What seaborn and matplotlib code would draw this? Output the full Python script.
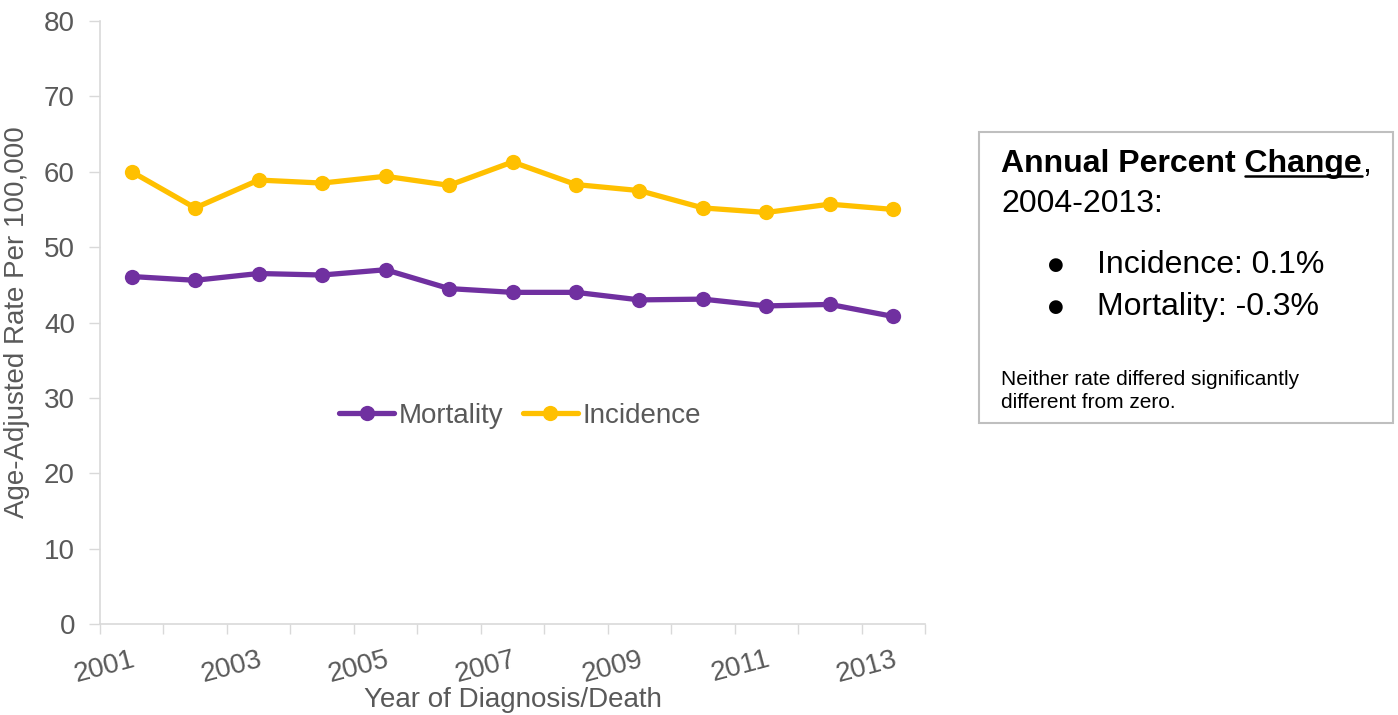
import matplotlib
matplotlib.use("Agg")
import matplotlib.pyplot as plt
import seaborn as sns
import pandas as pd
from matplotlib.lines import Line2D
from matplotlib.patches import Rectangle

years = list(range(2001, 2014))
incidence = [60.0, 55.2, 58.9, 58.5, 59.4, 58.2, 61.3, 58.3, 57.5, 55.2, 54.6, 55.7, 55.0]
mortality = [46.1, 45.6, 46.5, 46.3, 47.0, 44.5, 44.0, 44.0, 43.0, 43.1, 42.2, 42.4, 40.8]
series_order = ["Mortality", "Incidence"]
series_colors = ["#7030A0", "#FFC000"]
yticks = [0, 10, 20, 30, 40, 50, 60, 70, 80]
xtick_years = [2001, 2003, 2005, 2007, 2009, 2011, 2013]

df = pd.concat([
    pd.DataFrame({"Year": years, "Rate": mortality, "Series": "Mortality"}),
    pd.DataFrame({"Year": years, "Rate": incidence, "Series": "Incidence"}),
])

sns.set_style("white")
plt.rcParams["font.family"] = ["Liberation Sans", "DejaVu Sans"]
gray = "#595959"
FS = 20

fig = plt.figure(figsize=(13.98, 7.15), dpi=100)
ax = fig.add_axes([0.0715, 0.1273, 0.5902, 0.8433])

sns.lineplot(data=df, x="Year", y="Rate", hue="Series", hue_order=series_order,
             palette=series_colors, marker="o", markersize=11, markeredgewidth=0,
             linewidth=3.8, ax=ax)

ax.set_xlim(years[0] - 0.5, years[-1] + 0.5)
ax.set_ylim(0, 80)
ax.set_yticks(yticks)
ax.set_yticklabels([str(v) for v in yticks], fontsize=FS, color=gray)
ax.tick_params(axis="y", length=8, width=1, color="#d9d9d9", pad=10, left=True)

ax.set_xticks(xtick_years)
ax.set_xticklabels([str(y) for y in xtick_years], fontsize=FS, color=gray,
                   rotation=15, ha="right", rotation_mode="anchor")
ax.tick_params(axis="x", which="major", length=0, pad=16)
ax.set_xticks([y - 0.5 for y in years] + [years[-1] + 0.5], minor=True)
ax.tick_params(axis="x", which="minor", length=7, width=1, color="#d9d9d9", bottom=True)

for s in ["top", "right"]:
    ax.spines[s].set_visible(False)
for s in ["left", "bottom"]:
    ax.spines[s].set_color("#d9d9d9")
    ax.spines[s].set_linewidth(1.2)

ax.set_xlabel("Year of Diagnosis/Death", fontsize=FS, color=gray, labelpad=0)
ax.set_ylabel("Age-Adjusted Rate Per 100,000", fontsize=FS, color=gray, labelpad=10)

leg = ax.legend(loc="center", bbox_to_anchor=(0.509, 0.345), ncol=2, frameon=False,
                fontsize=FS, handlelength=2.0, columnspacing=0.7, handletextpad=0.15)
for t in leg.get_texts():
    t.set_color(gray)

# Annotation box
W, H = 1398, 715
fig.add_artist(Rectangle((979 / W, 1 - 423 / H), 414 / W, 291 / H,
                         transform=fig.transFigure, fill=False, edgecolor="#bfbfbf", linewidth=1.5))

BFS = 23
x0 = 1001 / W
t1 = fig.text(x0, 1 - 172 / H, "Annual Percent Change", fontsize=BFS, fontweight="bold",
              color="black", va="baseline")
fig.text(x0, 1 - 212 / H, "2004-2013:", fontsize=BFS, color="black", va="baseline")
fig.canvas.draw()
r = fig.canvas.get_renderer()
bb = t1.get_window_extent(r)
tmp = fig.text(0, 0, "Change", fontsize=BFS, fontweight="bold")
w = tmp.get_window_extent(r).width
tmp.remove()
fig.text(bb.x1 / fig.bbox.width, 1 - 172 / H, ",", fontsize=BFS, color="black", va="baseline")
uy = 1 - 176 / H
fig.add_artist(Line2D([(bb.x1 - w) / fig.bbox.width, bb.x1 / fig.bbox.width], [uy, uy],
                      transform=fig.transFigure, color="black", linewidth=1.8))

for yb, yc, line in [(273, 265, "Incidence: 0.1%"), (315, 307, "Mortality: -0.3%")]:
    fig.text(1056 / W, 1 - yc / H, "\u25CF", fontsize=13, color="black", ha="center",
             va="center", family="DejaVu Sans")
    fig.text(1097 / W, 1 - yb / H, line, fontsize=BFS, color="black", va="baseline")

fig.text(x0, 1 - 385 / H, "Neither rate differed significantly", fontsize=15,
         color="black", va="baseline")
fig.text(x0, 1 - 408 / H, "different from zero.", fontsize=15, color="black", va="baseline")

fig.savefig("out.png", dpi=100)
